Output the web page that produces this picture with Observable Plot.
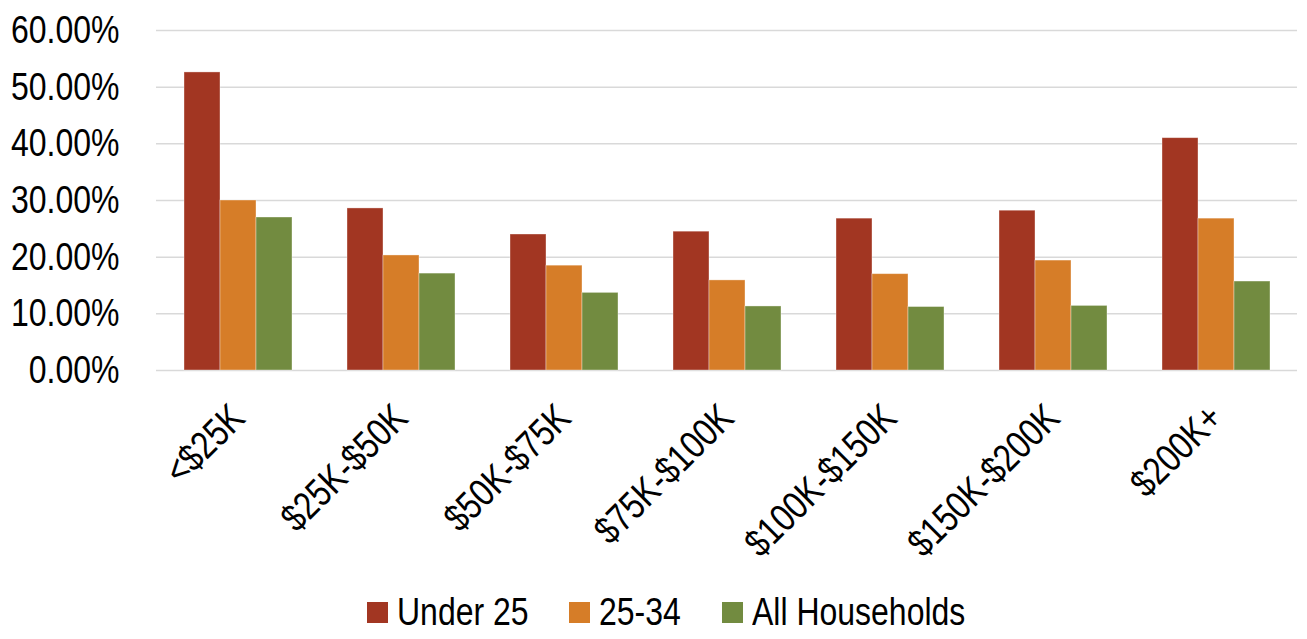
<!DOCTYPE html>
<html>
<head>
<meta charset="utf-8">
<script src="https://cdn.jsdelivr.net/npm/d3@7"></script>
<script src="https://cdn.jsdelivr.net/npm/@observablehq/plot@0.6"></script>
<style>
  html, body { margin: 0; padding: 0; background: #fff; }
  body { width: 1307px; height: 639px; overflow: hidden; font-family: "Liberation Sans", Arial, sans-serif; }
  #legend { display: flex; justify-content: center; align-items: center; height: 54px; font-size: 39px; color: #000; padding-left: 25px; }
  .item { display: flex; align-items: center; margin: 0 20.5px; }
  .sw { width: 21px; height: 21px; margin-right: 9px; }
  .lbl { display: inline-block; transform-origin: 0 50%; white-space: nowrap; }
</style>
</head>
<body>
<div id="chart"></div>
<div id="legend"></div>
<script>
const incomes = ["<$25K", "$25K-$50K", "$50K-$75K", "$75K-$100K", "$100K-$150K", "$150K-$200K", "$200K+"];
const seriesNames = ["Under 25", "25-34", "All Households"];
const under25 = [0.526, 0.286, 0.240, 0.245, 0.268, 0.282, 0.410];
const age2534 = [0.300, 0.203, 0.185, 0.159, 0.170, 0.194, 0.268];
const allHouseholds = [0.270, 0.171, 0.137, 0.113, 0.112, 0.114, 0.157];
const colors = ["#A23622", "#D67D28", "#728B40"];
const yTicks = [0, 0.1, 0.2, 0.3, 0.4, 0.5, 0.6];
const narrow = 0.82;

const seriesValues = [under25, age2534, allHouseholds];
const data = [];
incomes.forEach((inc, i) => {
  seriesNames.forEach((s, j) => data.push({income: inc, series: s, value: seriesValues[j][i]}));
});

const chart = Plot.plot({
  width: 1307,
  height: 585,
  marginLeft: 153,
  marginRight: 8,
  marginTop: 30,
  marginBottom: 215,
  style: {fontFamily: "'Liberation Sans', Arial, sans-serif", fontSize: "39px", color: "#000", background: "#fff"},
  fx: {domain: incomes, padding: 0, label: null},
  x: {domain: seriesNames, axis: null, paddingInner: 0, paddingOuter: 0.755},
  y: {domain: [0, 0.6], axis: null},
  color: {domain: seriesNames, range: colors},
  marks: [
    Plot.ruleY(yTicks, {stroke: "#d9d9d9", strokeWidth: 1.5}),
    Plot.barY(data, {fx: "income", x: "series", y: "value", fill: "series", stroke: "#fff", strokeOpacity: 0.45, strokeWidth: 0.8}),
    Plot.axisY({ticks: yTicks, tickFormat: d3.format(".2%"), tickSize: 0, tickPadding: 37, fontSize: 39, label: null}),
    Plot.axisFx({anchor: "bottom", tickRotate: -45, tickSize: 0, tickPadding: 41, fontSize: 39, label: null})
  ]
});
document.getElementById("chart").appendChild(chart);

// condense the glyphs horizontally (Arial Narrow look)
chart.querySelectorAll("text").forEach(t => {
  const L = t.getComputedTextLength();
  if (L > 0) {
    t.setAttribute("textLength", L * narrow);
    t.setAttribute("lengthAdjust", "spacingAndGlyphs");
  }
});

const legend = document.getElementById("legend");
seriesNames.forEach((s, j) => {
  const it = document.createElement("div");
  it.className = "item";
  const sw = document.createElement("div");
  sw.className = "sw";
  sw.style.background = colors[j];
  const t = document.createElement("span");
  t.className = "lbl";
  t.textContent = s;
  it.appendChild(sw); it.appendChild(t);
  legend.appendChild(it);
  const w = t.getBoundingClientRect().width;
  t.style.transform = `scaleX(${narrow})`;
  t.style.marginRight = `${-w * (1 - narrow)}px`;
});
</script>
</body>
</html>
